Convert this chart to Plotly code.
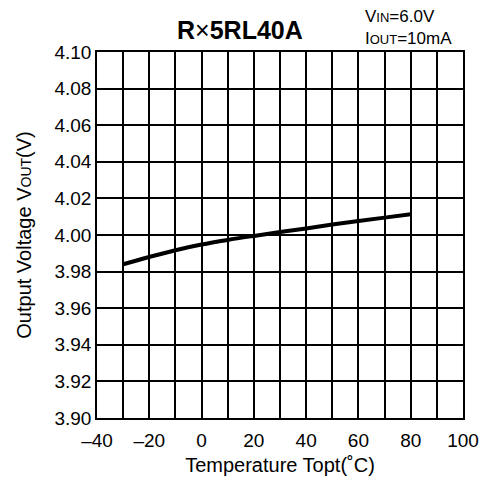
import plotly.graph_objects as go

temperature = [-30, -20, -10, 0, 10, 20, 30, 40, 50, 60, 70, 80]
vout = [3.984, 3.988, 3.9917, 3.9948, 3.9973, 3.9995, 4.0016, 4.0036, 4.0057, 4.0077, 4.0095, 4.0113]

x_ticks = [-40, -30, -20, -10, 0, 10, 20, 30, 40, 50, 60, 70, 80, 90, 100]
x_ticktext = ["\u201340", "", "\u201320", "", "0", "", "20", "", "40", "", "60", "", "80", "", "100"]
y_ticks = [3.90, 3.92, 3.94, 3.96, 3.98, 4.00, 4.02, 4.04, 4.06, 4.08, 4.10]
y_ticktext = ["%.2f" % v for v in y_ticks]

FONT = "Liberation Sans, Arial, sans-serif"

# plot area in the screenshot: x 97..463, y 52..418 (page body adds 8px offset)
L, T, R, B = 89, 44, 32, 77

fig = go.Figure()
fig.add_trace(go.Scatter(x=temperature, y=vout, mode="lines",
                         line=dict(color="black", width=4, shape="spline"),
                         showlegend=False, hoverinfo="skip"))

fig.update_layout(
    width=487, height=487,
    margin=dict(l=L, r=R, t=T, b=B, autoexpand=False),
    paper_bgcolor="white", plot_bgcolor="white",
    font=dict(family=FONT, color="black", size=19),
    xaxis=dict(range=[-40, 100], tickmode="array", tickvals=x_ticks, ticktext=x_ticktext,
               showgrid=True, gridcolor="black", gridwidth=1.5,
               showline=True, linecolor="black", linewidth=1.5, mirror=True,
               zeroline=False, ticks="", ticklabelstandoff=4,
               tickfont=dict(size=19),
               title=dict(text="Temperature Topt(\u02daC)", font=dict(size=20), standoff=8)),
    yaxis=dict(range=[3.90, 4.10], tickmode="array", tickvals=y_ticks, ticktext=y_ticktext,
               showgrid=True, gridcolor="black", gridwidth=1.5,
               showline=True, linecolor="black", linewidth=1.5, mirror=True,
               zeroline=False, ticks="",
               tickfont=dict(size=19),
               title=dict(text="Output Voltage V<span style=\"font-size:14px\">OUT</span>(V)",
                          font=dict(size=20), standoff=17)),
)

pw = 487 - L - R
ph = 487 - T - B

def px_x(x):
    return (x - 97) / pw

def px_y(y):
    return 1 + (52 - y) / ph

fig.add_annotation(text="<b>R</b>\u00d7<b>5RL40A</b>", xref="paper", yref="paper",
                   x=px_x(240), y=px_y(30),
                   xanchor="center", yanchor="middle", showarrow=False,
                   font=dict(size=25))
fig.add_annotation(text="V<span style=\"font-size:13px\">IN</span>=6.0V<br>"
                        "I<span style=\"font-size:13px\">OUT</span>=10mA",
                   xref="paper", yref="paper",
                   x=px_x(363), y=px_y(27), align="left",
                   xanchor="left", yanchor="middle", showarrow=False,
                   font=dict(size=17))

fig.write_html("out.html")
